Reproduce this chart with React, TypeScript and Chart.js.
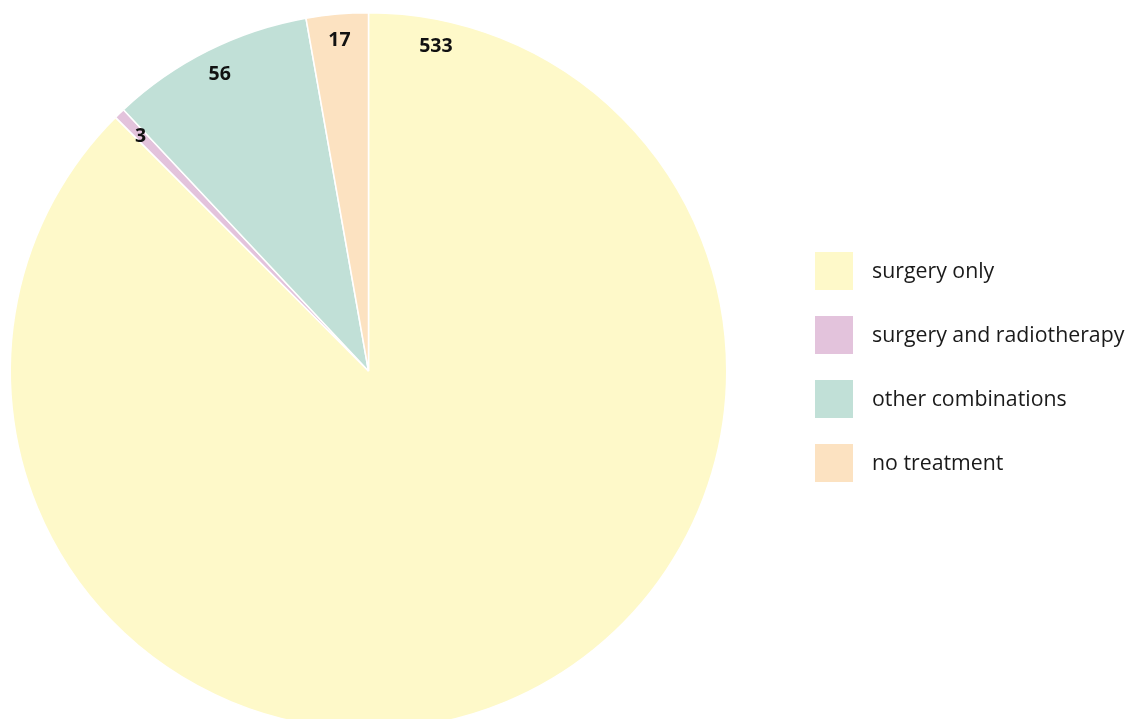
import React, { useEffect, useRef } from "react";
import { Chart, registerables } from "chart.js";

Chart.register(...registerables);

const categories = ["surgery only", "surgery and radiotherapy", "other combinations", "no treatment"];
const counts = [533, 3, 56, 17];
const sliceColors = ["#FEF9C9", "#E3C3DC", "#C1E0D7", "#FCE2C1"];

const FONT = "'Open Sans', 'Noto Sans', sans-serif";

const labelPlugin = {
  id: "sliceLabels",
  afterDatasetsDraw(chart: any) {
    const ctx = chart.ctx;
    const meta = chart.getDatasetMeta(0);
    ctx.save();
    ctx.font = `bold 19.5px ${FONT}`;
    ctx.fillStyle = "#111111";
    ctx.textAlign = "center";
    ctx.textBaseline = "middle";
    meta.data.forEach((arc: any, i: number) => {
      const { x, y, startAngle, endAngle, outerRadius } = arc.getProps(
        ["x", "y", "startAngle", "endAngle", "outerRadius"],
        true
      );
      const span = endAngle - startAngle;
      // large slices get their label near the start edge, others at mid-angle
      const a = span > Math.PI ? startAngle + 0.204 : (startAngle + endAngle) / 2;
      const r = outerRadius * (span < 0.1 ? 0.915 : 0.928);
      ctx.fillText(String(chart.data.datasets[0].data[i]), x + Math.cos(a) * r, y + Math.sin(a) * r + 1);
    });
    ctx.restore();
  },
};

const legendPlugin = {
  id: "sideLegend",
  afterDraw(chart: any) {
    const ctx = chart.ctx;
    const left = 815;
    const top = 252;
    const box = 38;
    const step = 64;
    ctx.save();
    ctx.font = `21.3px ${FONT}`;
    ctx.textAlign = "left";
    ctx.textBaseline = "middle";
    chart.data.labels.forEach((lab: string, i: number) => {
      const yy = top + i * step;
      ctx.fillStyle = chart.data.datasets[0].backgroundColor[i];
      ctx.fillRect(left, yy, box, box);
      ctx.fillStyle = "#1a1a1a";
      ctx.fillText(lab, 872, yy + box / 2 + 0.5);
    });
    ctx.restore();
  },
};

export default function App() {
  const ref = useRef<HTMLCanvasElement | null>(null);
  useEffect(() => {
    if (!ref.current) return;
    const chart = new Chart(ref.current, {
      type: "pie",
      data: {
        labels: categories,
        datasets: [
          {
            data: counts,
            backgroundColor: sliceColors,
            borderColor: "#ffffff",
            borderWidth: 1.5,
          },
        ],
      },
      options: {
        animation: false,
        responsive: true,
        maintainAspectRatio: false,
        layout: { padding: { left: 9.5, right: 401.5, top: 12, bottom: 12 } },
        plugins: {
          legend: { display: false },
          tooltip: { enabled: false },
          title: { display: false },
        },
      },
      plugins: [labelPlugin, legendPlugin],
    });
    return () => chart.destroy();
  }, []);
  return (
    <div style={{ position: "fixed", left: 0, top: 0, width: "1129px", height: "719px", overflow: "hidden", background: "#fff" }}>
      <div style={{ position: "absolute", left: 0, top: 0, width: "1129px", height: "742px" }}>
        <canvas ref={ref} />
      </div>
    </div>
  );
}
